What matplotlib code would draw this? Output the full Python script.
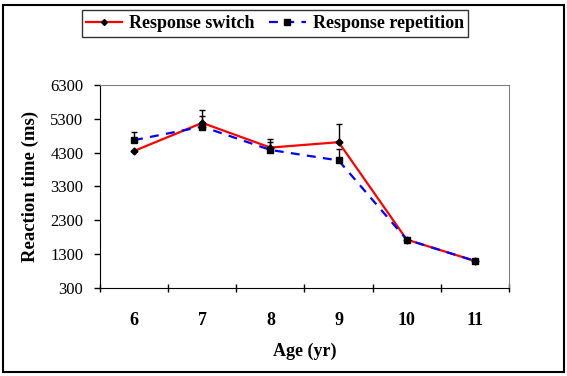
import matplotlib.pyplot as plt
from matplotlib.lines import Line2D
from matplotlib.patches import Rectangle

ages = ['6', '7', '8', '9', '10', '11']
switch = [4350, 5180, 4450, 4610, 1730, 1100]
switch_err = [0, 370, 240, 530, 0, 0]
repetition = [4670, 5070, 4380, 4070, 1730, 1100]
repetition_err = [250, 310, 230, 330, 0, 0]

plt.rcParams['font.family'] = 'Liberation Serif'

fig = plt.figure(figsize=(5.67, 3.76), dpi=100)
ax = fig.add_axes([100 / 567, 88 / 376, 409 / 567, 203 / 376])

x = range(len(ages))
dash = (0, (4, 3.3))
ax.errorbar(x, switch, yerr=[[0] * len(ages), switch_err], color='red', lw=1.6,
            marker='D', ms=3.5, mfc='black', mec='black', ecolor='black',
            elinewidth=1, capsize=2.5, capthick=1, zorder=3)
ax.errorbar(x, repetition, yerr=[[0] * len(ages), repetition_err], color='blue', lw=1.6,
            ls=dash, marker='s', ms=5, mfc='black', mec='black', ecolor='black',
            elinewidth=1, capsize=2.5, capthick=1, zorder=3)

ax.set_xlim(-0.5, len(ages) - 0.5)
ax.set_ylim(300, 6300)
ax.set_yticks(range(300, 6301, 1000))
ax.set_xticks(list(x))
ax.set_xticklabels(ages, fontweight='bold', fontsize=13)
ax.set_xticks([i - 0.5 for i in range(len(ages) + 1)], minor=True)
ax.tick_params(axis='x', which='major', length=0, pad=17)
ax.tick_params(axis='x', which='minor', direction='inout', length=6, width=1)
ax.tick_params(axis='y', direction='out', length=4, width=1, labelsize=12, pad=8)

for side in ['top', 'right']:
    ax.spines[side].set_color('#808080')
for side in ['left', 'bottom']:
    ax.spines[side].set_color('black')

ax.set_xlabel('Age (yr)', fontweight='bold', fontsize=13, labelpad=10)
ax.set_ylabel('Reaction time (ms)', fontweight='bold', fontsize=13.5, labelpad=8)

handles = [
    Line2D([], [], color='red', lw=1.6, marker='D', ms=3, mfc='black', mec='black'),
    Line2D([], [], color='blue', lw=1.6, ls=dash, marker='s', ms=4, mfc='black', mec='black'),
]
fig.legend(handles, ['Response switch', 'Response repetition'], loc='center',
           bbox_to_anchor=(275 / 567, 1 - 23.5 / 376), ncol=2,
           prop={'weight': 'bold', 'size': 13}, frameon=True, fancybox=False,
           edgecolor='black', handlelength=2.0, columnspacing=0.8,
           handletextpad=0.4, borderpad=0.25)

fig.patches.append(Rectangle((3 / 567, 4 / 376), 561 / 567, 367 / 376, fill=False,
                             edgecolor='black', lw=1.5, transform=fig.transFigure))

fig.savefig('out.png', dpi=100)
